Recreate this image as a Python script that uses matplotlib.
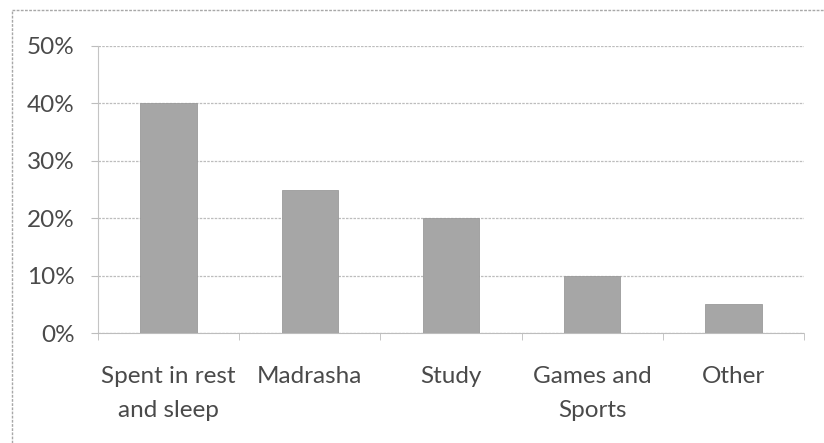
import matplotlib
matplotlib.use("Agg")
import matplotlib.pyplot as plt
from matplotlib.lines import Line2D

categories = ["Spent in rest\nand sleep", "Madrasha", "Study", "Games and\nSports", "Other"]
values = [40, 25, 20, 10, 5]
yticks = [0, 10, 20, 30, 40, 50]
ytick_labels = ["0%", "10%", "20%", "30%", "40%", "50%"]

W, H = 824, 443
fig = plt.figure(figsize=(W / 100, H / 100), dpi=100)
ax = fig.add_axes([98 / W, 1 - 333 / H, (804 - 98) / W, (333 - 46) / H])

x = list(range(len(categories)))
ax.bar(x, values, width=0.4, color="#a6a6a6", edgecolor="#9a9a9a", linewidth=0.6, zorder=3)

ax.set_xlim(-0.5, len(categories) - 0.5)
ax.set_ylim(0, 50)
ax.set_yticks(yticks)
ax.set_yticklabels(ytick_labels)
ax.set_xticks(x)
ax.set_xticklabels(categories)

txt_color = "#4a4a4a"
for lab in ax.get_yticklabels():
    lab.set_fontfamily("Lato")
    lab.set_fontsize(17.5)
    lab.set_color(txt_color)
for lab in ax.get_xticklabels():
    lab.set_fontfamily("Lato")
    lab.set_fontsize(17.5)
    lab.set_color(txt_color)
    lab.set_linespacing(1.75)

ax.yaxis.grid(True, color="#bdbdbd", linewidth=0.9, linestyle=(0, (2, 1)), zorder=0)
ax.set_axisbelow(True)
ax.tick_params(axis="y", length=5, color="#bdbdbd", pad=12)
ax.tick_params(axis="x", length=0, pad=24)

# minor x ticks at category boundaries
ax.set_xticks([i + 0.5 for i in range(-1, len(categories))], minor=True)
ax.tick_params(axis="x", which="minor", length=5, color="#bdbdbd")

for s in ["top", "right"]:
    ax.spines[s].set_visible(False)
ax.spines["left"].set_color("#c4c4c4")
ax.spines["left"].set_linestyle((0, (2, 1)))
ax.spines["bottom"].set_color("#bdbdbd")
ax.spines["bottom"].set_linestyle((0, (2, 1)))

# outer chart frame (top and left visible)
fig.add_artist(Line2D([12 / W, 1], [1 - 10 / H, 1 - 10 / H], transform=fig.transFigure,
                      color="#a8a8a8", linewidth=1.0, linestyle=(0, (2, 1))))
fig.add_artist(Line2D([12 / W, 12 / W], [0, 1 - 10 / H], transform=fig.transFigure,
                      color="#a8a8a8", linewidth=1.0, linestyle=(0, (2, 1))))

fig.savefig("out.png", dpi=100)
